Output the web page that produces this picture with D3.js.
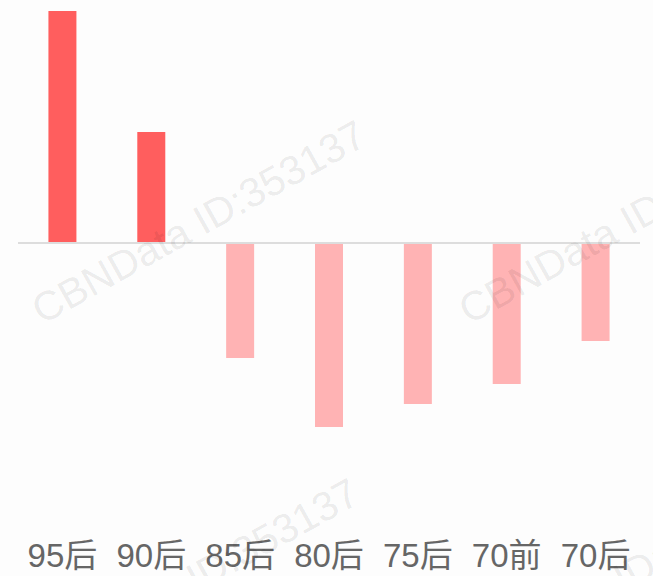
<!DOCTYPE html>
<html>
<head>
<meta charset="utf-8">
<script src="https://cdn.jsdelivr.net/npm/d3@7"></script>
<style>
  html, body { margin: 0; padding: 0; background: #fdfdfd; }
  svg { display: block; }
</style>
</head>
<body>
<svg id="chart" width="653" height="576"></svg>
<script>
const categories = ["95后", "90后", "85后", "80后", "75后", "70前", "70后"];
const values = [2.32, 1.11, -1.15, -1.84, -1.61, -1.41, -0.98];
const watermarkText = "CBNData ID:353137";
const watermarkAnchors = [[42, 325], [469, 325], [35, 683], [462, 683]];

const W = 653, H = 576;
const svg = d3.select("#chart");
svg.append("rect").attr("width", W).attr("height", H).attr("fill", "#fdfdfd");

const x = d3.scaleBand()
  .domain(categories)
  .range([18, 640])
  .paddingInner(0.685)
  .paddingOuter(0.3425);

const y = d3.scaleLinear()
  .domain([-2.32, 2.32])
  .range([475, 11]);

// bars
svg.append("g").selectAll("rect")
  .data(values)
  .join("rect")
  .attr("x", (d, i) => x(categories[i]))
  .attr("width", x.bandwidth())
  .attr("y", d => d >= 0 ? y(d) : y(0))
  .attr("height", d => Math.abs(y(d) - y(0)))
  .attr("fill", d => d >= 0 ? "#ff5e5e" : "#ffb3b4");

// zero line
svg.append("line")
  .attr("x1", x.range()[0]).attr("x2", x.range()[1])
  .attr("y1", y(0)).attr("y2", y(0))
  .attr("stroke", "#dddddd").attr("stroke-width", 2);

// category labels
const axis = d3.axisBottom(x).tickSize(0).tickPadding(0);
const gx = svg.append("g").attr("transform", "translate(0,567)").call(axis);
gx.select(".domain").remove();
gx.selectAll("text")
  .attr("y", 0).attr("dy", 0)
  .attr("fill", "#666666")
  .style("font-family", "'Liberation Sans', Arial, 'Noto Sans CJK SC', sans-serif")
  .style("font-size", "33px");

// watermark
svg.append("g").selectAll("text")
  .data(watermarkAnchors)
  .join("text")
  .attr("transform", d => `translate(${d[0]},${d[1]}) rotate(-29)`)
  .attr("fill", "rgba(0,0,0,0.085)")
  .style("font-family", "'Liberation Sans', Arial, sans-serif")
  .style("font-size", "41px")
  .text(watermarkText);
</script>
</body>
</html>
